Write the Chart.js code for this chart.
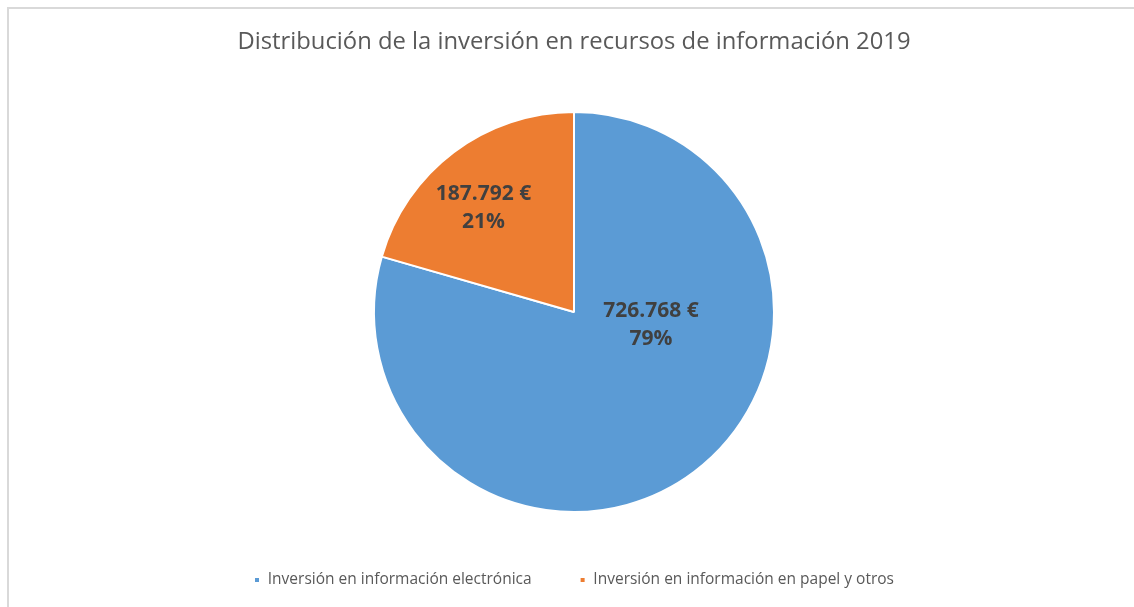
<!DOCTYPE html>
<html>
<head>
<meta charset="utf-8">
<script src="https://cdn.jsdelivr.net/npm/chart.js@4/dist/chart.umd.min.js"></script>
<style>
  html, body { margin: 0; padding: 0; background: #fff; }
  #frame { position: absolute; left: 7px; top: 7px; width: 1127px; height: 600px;
           border-top: 2px solid #d9d9d9; border-left: 2px solid #d9d9d9; box-sizing: border-box; }
  #wrap { position: absolute; left: 0; top: 0; width: 1134px; height: 607px; }
</style>
</head>
<body>
<div id="frame"></div>
<div id="wrap"><canvas id="chart" width="1134" height="607"></canvas></div>
<script>
const categories = ['Inversión en información electrónica', 'Inversión en información en papel y otros']
const values = [726768, 187792]
const colors = ['#5b9bd5', '#ed7d31']

// where each data label sits: angle in degrees clockwise from 12 o'clock, radius as fraction
const labelPlacement = [
  { angle: 99.5, radius: 0.39 },
  { angle: 319, radius: 0.69 }
]

const formatEuro = v => String(v).replace(/\B(?=(\d{3})+(?!\d))/g, '.') + ' €'

const total = values.reduce((a, b) => a + b, 0)

const sliceLabels = {
  id: 'sliceLabels',
  afterDatasetsDraw(chart) {
    const {ctx} = chart
    const meta = chart.getDatasetMeta(0)
    ctx.save()
    ctx.font = 'bold 21px "Open Sans", sans-serif'
    ctx.fillStyle = '#404040'
    ctx.textAlign = 'center'
    ctx.textBaseline = 'middle'
    meta.data.forEach((arc, i) => {
      const p = labelPlacement[i]
      const a = (p.angle - 90) * Math.PI / 180
      const r = arc.outerRadius * p.radius
      const x = arc.x + Math.cos(a) * r
      const y = arc.y + Math.sin(a) * r
      const pct = Math.round(values[i] / total * 100) + '%'
      ctx.fillText(formatEuro(values[i]), x, y - 14)
      ctx.fillText(pct, x, y + 14)
    })
    ctx.restore()
  }
}

new Chart(document.getElementById('chart'), {
  type: 'pie',
  data: {
    labels: categories,
    datasets: [{
      data: values,
      backgroundColor: colors,
      borderColor: '#ffffff',
      borderWidth: 2,
      radius: 200
    }]
  },
  options: {
    responsive: false,
    animation: false,
    layout: { padding: { left: 14, bottom: 9.25 } },
    plugins: {
      title: {
        display: true,
        text: 'Distribución de la inversión en recursos de información 2019',
        color: '#595959',
        font: { family: '"Open Sans", sans-serif', size: 23.8, weight: 'normal' },
        padding: { top: 27.6, bottom: 43.6 }
      },
      legend: {
        position: 'bottom',
        labels: {
          boxWidth: 6,
          boxHeight: 6,
          padding: 48,
          color: '#595959',
          font: { family: '"Open Sans", sans-serif', size: 15.5 }
        }
      },
      tooltip: { enabled: false }
    }
  },
  plugins: [sliceLabels]
})
</script>
</body>
</html>
